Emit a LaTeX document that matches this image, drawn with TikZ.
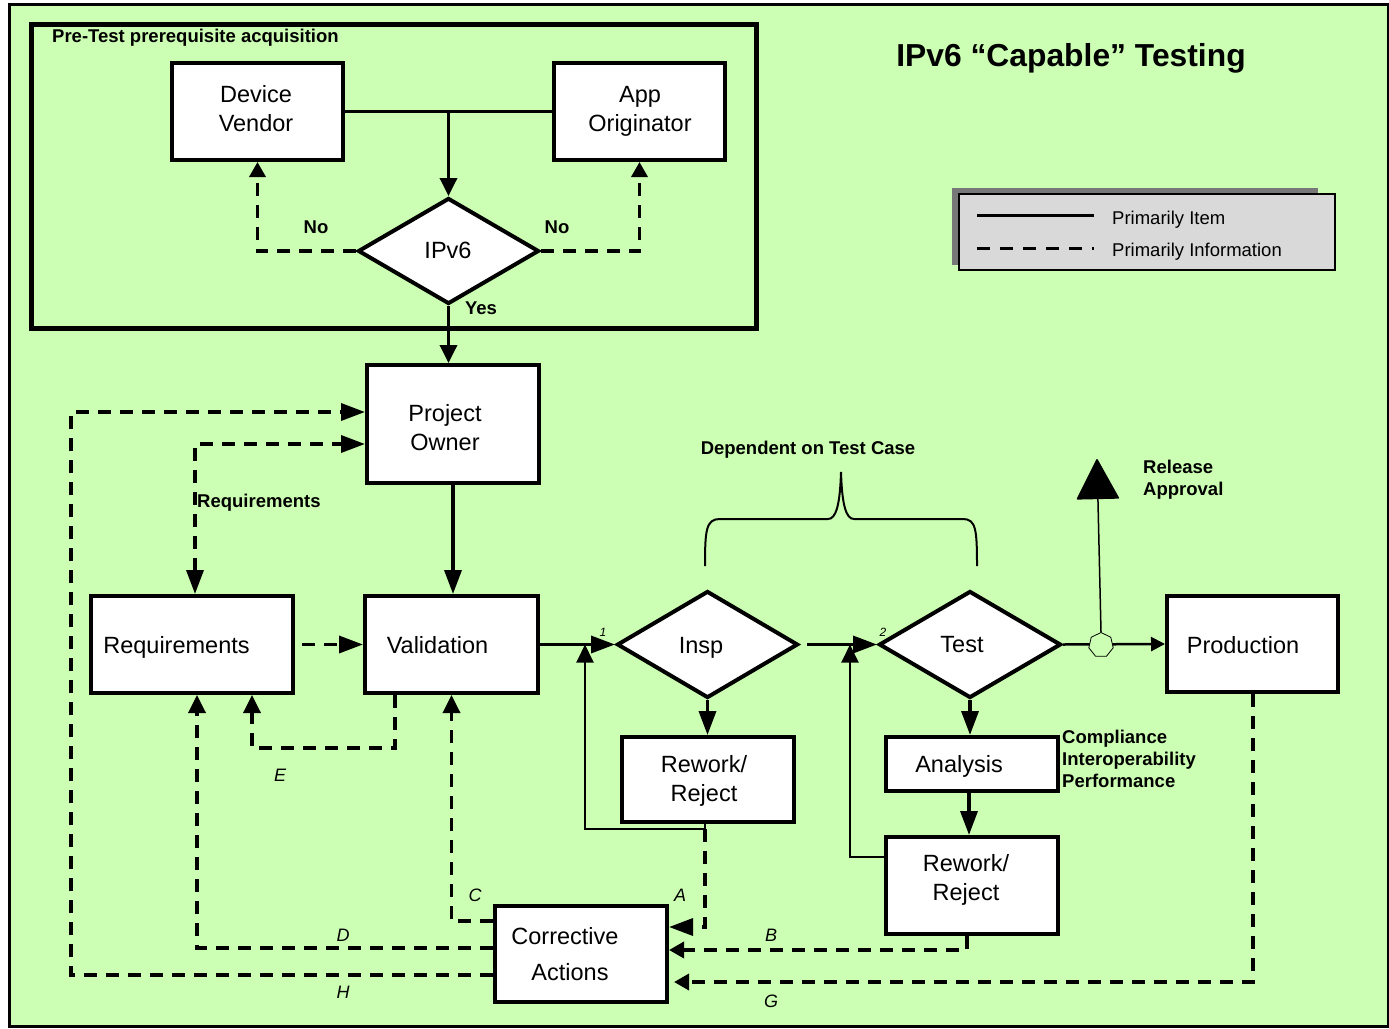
\documentclass[tikz,border=0pt]{standalone}
\usepackage{fontspec}
\setmainfont{Liberation Sans}
\usetikzlibrary{arrows.meta,shapes.geometric}

\definecolor{panelgreen}{RGB}{204,255,179}
\definecolor{legendfill}{RGB}{217,217,217}
\definecolor{legendshadow}{RGB}{120,120,120}

\begin{document}
\begin{tikzpicture}[x=1pt,y=-1pt,
  box/.style={draw,fill=white,line width=4pt,inner sep=0pt},
  decision/.style={diamond,draw,fill=white,line width=4pt,inner sep=0pt},
  boxtext/.style={font=\fontsize{23.5}{29}\selectfont,align=center,inner sep=0pt},
  lab/.style={font=\bfseries\fontsize{18.5}{22}\selectfont,inner sep=0pt},
  letter/.style={font=\itshape\fontsize{18}{22}\selectfont,inner sep=0pt},
  stepno/.style={font=\itshape\fontsize{12}{14}\selectfont,inner sep=0pt},
  legtext/.style={font=\fontsize{18.5}{22}\selectfont,inner sep=0pt,anchor=west},
  item/.style={line width=3.5pt},
  info/.style={line width=3.5pt,dash pattern=on 13pt off 9pt},
  thinitem/.style={line width=2pt},
  tipL/.style={-{Triangle[length=24pt,width=17pt]}},
  tipM/.style={-{Triangle[length=18pt,width=17pt]}},
  tipS/.style={-{Triangle[length=15pt,width=16pt]}},
  tipT/.style={-{Triangle[length=14pt,width=14pt]}},
  tipBoth/.style={{Triangle[length=24pt,width=17pt]}-{Triangle[length=24pt,width=17pt]}},
]
% page, panel and the pre-test frame
\fill[white] (0,0) rectangle (1389,1028);
\useasboundingbox (0,0) rectangle (1389,1028);
\draw[line width=3pt,fill=panelgreen] (9,4) rectangle (1388,1026);
\draw[line width=5pt] (31,24) rectangle (756,328);
\node[lab,anchor=west] (pretest) at (52,38) {Pre-Test prerequisite acquisition};

% title
\node[font=\bfseries\fontsize{31.8}{36}\selectfont,inner sep=0pt] (title) at (1071,58) {IPv6 “Capable” Testing};

% legend
\fill[legendshadow] (952,188) rectangle (1318,265);
\node[draw,fill=legendfill,line width=1.5pt,minimum width=376pt,minimum height=76pt,inner sep=0pt] (legend) at (1147,232) {};
\coordinate (legA1) at (977,215); \coordinate (legA2) at (1094,215);
\coordinate (legB1) at (977,248); \coordinate (legB2) at (1094,248);
\draw[line width=3pt] (legA1) -- (legA2);
\draw[line width=3pt,dash pattern=on 13pt off 10pt] (legB1) -- (legB2);
\node[legtext] (legItem) at (1112,220) {Primarily Item};
\node[legtext] (legInfo) at (1112,252) {Primarily Information};

% boxes
\node[box,minimum width=171pt,minimum height=97pt] (dv) at (257.5,111.5) {};
\node[boxtext] (dvT) at (256,109) {Device\\Vendor};
\node[box,minimum width=171pt,minimum height=97pt] (ao) at (639.5,111.5) {};
\node[boxtext] (aoT) at (640,111) {App\\Originator};
\node[decision,minimum width=181pt,minimum height=106pt] (ipv6) at (448.5,251) {};
\node[boxtext] (ipv6T) at (448,250) {IPv6};

\node[box,minimum width=172pt,minimum height=118pt] (po) at (453,424) {};
\node[boxtext] (poT) at (445,428) {Project\\Owner};
\node[box,minimum width=202pt,minimum height=97pt] (req) at (192,644.5) {};
\node[boxtext] (reqT) at (176.5,647) {Requirements};
\node[box,minimum width=173pt,minimum height=97pt] (val) at (451.5,644.5) {};
\node[boxtext] (valT) at (437.5,645) {Validation};

\node[decision,minimum width=181pt,minimum height=107pt] (insp) at (707.5,644.5) {};
\node[boxtext] (inspT) at (701,648) {Insp};
\node[decision,minimum width=182pt,minimum height=107pt] (test) at (970,644.5) {};
\node[boxtext] (testT) at (962,645) {Test};
\node[box,minimum width=171pt,minimum height=96pt] (prod) at (1252.5,644) {};
\node[boxtext] (prodT) at (1243,645) {Production};

\node[box,minimum width=172pt,minimum height=85pt] (rw1) at (708,779.5) {};
\node[boxtext] (rw1T) at (704,780.5) {Rework/\\Reject};
\node[box,minimum width=172pt,minimum height=54pt] (an) at (972,764) {};
\node[boxtext] (anT) at (959,766) {Analysis};
\node[box,minimum width=172pt,minimum height=97pt] (rw2) at (972,885.5) {};
\node[boxtext] (rw2T) at (966,879.5) {Rework/\\Reject};
\node[box,minimum width=172pt,minimum height=96pt] (ca) at (581,954) {};
\node[boxtext] (caT1) at (565,936) {Corrective};
\node[boxtext] (caT2) at (570,972) {Actions};

% pre-test connectors
\draw[item] (dv.east) -- (ao.west);
\draw[item,tipM] (dv.east -| ipv6.north) -- (ipv6.north);
\draw[info,tipS] (ipv6.west) -| (dv.south);
\draw[info,tipS] (ipv6.east) -| (ao.south);
\draw[item,tipM] (ipv6.south) -- (ipv6.south |- po.north);
\node[lab] (noL) at (316,227) {No};
\node[lab] (noR) at (557,227) {No};
\node[lab] (yes) at (481,308) {Yes};

% project owner and requirements
\draw[item,tipL] (po.south) -- (po.south |- val.north);
\draw[info,tipBoth] (req.north -| 195,0) |- (po.west |- 0,444);
\node[lab,anchor=west] (reqLab) at (197,503) {Requirements};
\draw[info,tipL,shorten <=7pt] (req.east) -- (val.west);

% main flow
\draw[item,tipL] (val.east) -- (insp.west);
\draw[item,tipL] (insp.south) -- (insp.south |- rw1.north);
\draw[item,tipL,shorten <=7pt] (insp.east) -- (test.west);
\draw[item,tipL] (test.south) -- (test.south |- an.north);
\draw[item,tipL] (an.south -| 969,0) -- (rw2.north -| 969,0);
\node[stepno] (one) at (603,632) {1};
\node[stepno] (two) at (883,632) {2};

% rework loops
\coordinate (aknee) at (705,829);
\draw[thinitem,tipM] (rw1.south -| aknee) -- (aknee) -| (insp.west -| 585,0);
\draw[thinitem,tipM] (rw2.west |- 0,857) -| (test.west -| 850,0);

% release to production
\draw[line width=2.5pt,tipT] (test.east) -- (prod.west);
\node[regular polygon,regular polygon sides=7,draw,fill=panelgreen,line width=0.8pt,minimum size=25pt,inner sep=0pt] (hept) at (1101,645) {};
\coordinate (relTip) at (1097,459);
\draw[line width=1.5pt,-{Triangle[length=41pt,width=43pt,round]}] (hept.north) -- (relTip);
\node[lab,anchor=west,align=left] (relLab) at (1143,480) {Release\\Approval};
\node[lab,anchor=west,align=left] (metrics) at (1062,759) {Compliance\\Interoperability\\Performance};

% brace over the two decisions
\draw[line width=2pt] (705,566) .. controls (705,530) and (706,519) .. (720,519) -- (828,519)
  .. controls (836,519) and (840,505) .. (841,472)
  .. controls (842,505) and (846,519) .. (854,519) -- (963,519)
  .. controls (976,519) and (977,530) .. (977,566);
\node[lab] (depLab) at (808,450) {Dependent on Test Case};

% corrective action feedback
\draw[info,tipL] (aknee) |- (ca.east |- 0,927);
\draw[info,tipS] (rw2.south -| 967,0) |- (ca.east |- 0,950);
\draw[info,tipS,shorten >=5pt] (prod.south -| 1253,0) |- (ca.east |- 0,982);
\draw[info,tipM] (ca.west |- 0,921) -| (val.south);
\draw[info,tipM] (ca.west |- 0,948) -| (req.south -| 197,0);
\draw[info,tipL] (ca.west |- 0,975) -| (71,412) -- (po.west |- 0,412);
\draw[info,tipM] (val.south -| 395,0) |- (252,748) -- (req.south -| 252,0);

\node[letter] (lA) at (680,895) {A};
\node[letter] (lB) at (771,935) {B};
\node[letter] (lC) at (475,895) {C};
\node[letter] (lD) at (343,935) {D};
\node[letter] (lE) at (280,775) {E};
\node[letter] (lG) at (771,1001) {G};
\node[letter] (lH) at (343,992) {H};
\end{tikzpicture}
\end{document}
